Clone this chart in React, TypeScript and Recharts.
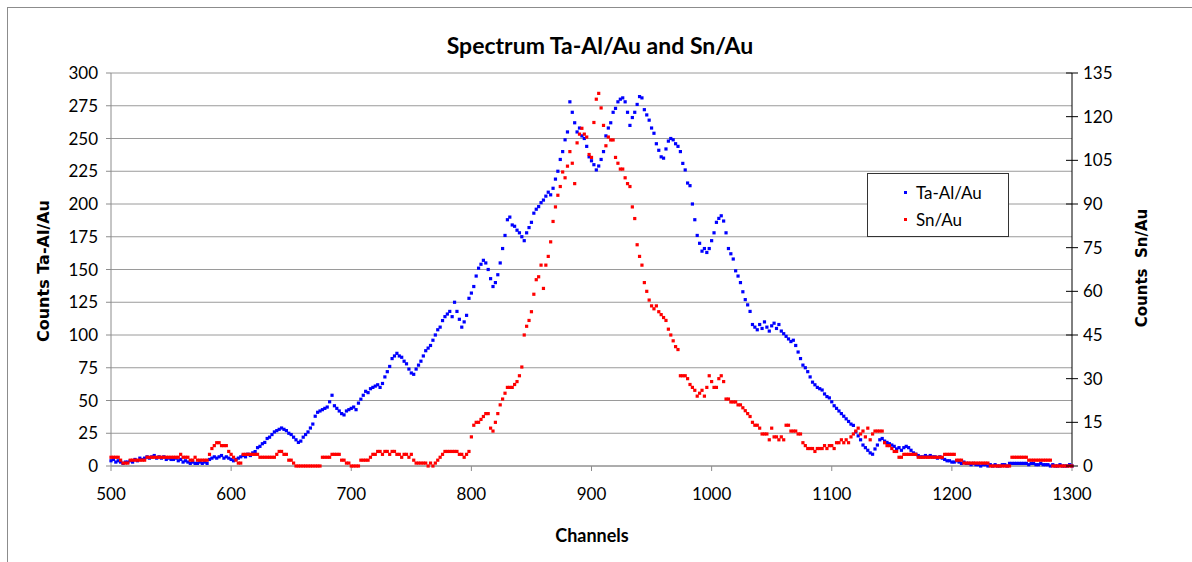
import { ScatterChart, Scatter, XAxis, YAxis, CartesianGrid } from "recharts";

// Spectrum channels are sampled every 2 channels from 500 to 1300
const CHANNEL_START = 500;
const CHANNEL_STEP = 2;

// Ta-Al/Au counts (left axis)
const TA_AL_AU = [
  4, 5, 3, 4, 3, 2, 3, 3, 4, 3,
  5, 4, 6, 5, 6, 7, 6, 7, 8, 6,
  7, 6, 7, 5, 6, 5, 5, 6, 4, 5,
  3, 4, 3, 2, 3, 2, 2, 3, 2, 3,
  2, 5, 6, 7, 6, 7, 8, 6, 7, 6,
  5, 4, 5, 6, 7, 8, 7, 9, 8, 10,
  11, 14, 15, 17, 18, 21, 22, 24, 26, 27,
  28, 29, 28, 27, 25, 24, 22, 20, 18, 19,
  22, 24, 26, 29, 32, 38, 41, 42, 43, 44,
  45, 49, 54, 46, 44, 42, 40, 39, 42, 43,
  44, 45, 43, 48, 51, 54, 57, 56, 59, 60,
  61, 62, 60, 63, 68, 72, 76, 82, 84, 86,
  84, 83, 80, 78, 74, 71, 70, 74, 77, 80,
  84, 88, 90, 92, 96, 100, 104, 106, 111, 114,
  116, 118, 114, 125, 118, 112, 106, 110, 115, 128,
  132, 137, 145, 151, 154, 157, 155, 150, 143, 137,
  140, 146, 155, 166, 176, 188, 190, 184, 183, 180,
  178, 175, 172, 178, 182, 186, 193, 196, 198, 201,
  203, 206, 209, 207, 212, 219, 225, 234, 240, 249,
  255, 278, 270, 262, 255, 258, 252, 250, 244, 236,
  233, 230, 226, 229, 234, 240, 252, 258, 262, 270,
  273, 278, 280, 281, 278, 270, 260, 266, 270, 276,
  282, 281, 272, 268, 264, 258, 254, 246, 241, 236,
  235, 242, 248, 250, 249, 246, 244, 240, 231, 226,
  216, 214, 200, 188, 176, 170, 164, 166, 163, 166,
  172, 178, 186, 189, 191, 187, 178, 166, 162, 158,
  149, 145, 140, 133, 127, 123, 118, 108, 106, 104,
  108, 105, 110, 106, 103, 107, 109, 105, 108, 103,
  101, 99, 97, 95, 96, 92, 87, 82, 77, 75,
  72, 68, 64, 62, 60, 59, 58, 55, 53, 52,
  49, 46, 44, 42, 40, 38, 36, 34, 32, 31,
  26, 23, 20, 16, 14, 12, 10, 9, 13, 16,
  20, 21, 19, 18, 17, 16, 15, 13, 14, 12,
  14, 15, 14, 12, 10, 9, 8, 7, 7, 8,
  7, 8, 7, 7, 6, 7, 6, 5, 4, 4,
  3, 3, 4, 3, 2, 3, 2, 2, 1, 2,
  1, 1, 0, 1, 1, 0, 1, 0, 1, 0,
  0, 1, 1, 0, 2, 2, 2, 2, 2, 2,
  2, 2, 1, 2, 2, 1, 1, 2, 1, 1,
  1, 0, 1, 0, 0, 1, 0, 0, 0, 1,
  0,
];

// Sn/Au counts (right axis)
const SN_AU = [
  3, 3, 3, 3, 2, 1, 1, 1, 2, 2,
  2, 2, 2, 2, 2, 3, 3, 3, 3, 3,
  3, 3, 3, 3, 3, 3, 3, 3, 3, 4,
  3, 3, 3, 2, 2, 3, 2, 2, 2, 2,
  2, 4, 6, 7, 8, 8, 7, 7, 7, 5,
  4, 3, 2, 1, 1, 4, 4, 4, 4, 4,
  4, 4, 3, 3, 3, 3, 3, 3, 3, 4,
  5, 5, 4, 4, 2, 2, 1, 0, 0, 0,
  0, 0, 0, 0, 0, 0, 0, 0, 3, 3,
  3, 3, 4, 4, 4, 4, 2, 2, 1, 1,
  0, 0, 0, 0, 2, 2, 2, 2, 3, 4,
  4, 5, 5, 4, 5, 5, 4, 5, 5, 4,
  4, 3, 4, 4, 3, 4, 2, 1, 1, 1,
  1, 1, 0, 1, 0, 1, 2, 3, 4, 5,
  5, 5, 5, 5, 5, 4, 4, 3, 4, 5,
  10, 14, 15, 15, 16, 17, 18, 18, 13, 12,
  15, 18, 21, 23, 25, 27, 27, 27, 28, 29,
  31, 34, 45, 48, 50, 53, 59, 64, 65, 69,
  61, 69, 72, 77, 84, 89, 93, 96, 101, 99,
  103, 108, 104, 97, 111, 114, 116, 114, 113, 107,
  106, 118, 126, 128, 123, 117, 110, 113, 112, 112,
  106, 104, 102, 102, 99, 97, 96, 89, 85, 76,
  72, 69, 63, 60, 57, 55, 54, 55, 53, 52,
  51, 50, 47, 45, 43, 41, 40, 31, 31, 31,
  30, 28, 27, 26, 24, 25, 26, 24, 27, 31,
  29, 27, 27, 30, 31, 29, 23, 23, 22, 22,
  22, 21, 21, 20, 19, 18, 17, 15, 14, 14,
  13, 11, 11, 11, 9, 13, 10, 10, 9, 10,
  9, 14, 14, 12, 12, 12, 11, 11, 8, 7,
  6, 6, 6, 5, 6, 6, 6, 7, 6, 7,
  7, 6, 8, 8, 9, 8, 9, 8, 10, 11,
  12, 13, 11, 12, 10, 13, 9, 11, 12, 12,
  12, 12, 8, 7, 7, 6, 5, 5, 3, 3,
  4, 4, 4, 4, 4, 4, 3, 3, 3, 3,
  3, 3, 3, 3, 3, 3, 3, 4, 4, 4,
  4, 4, 2, 2, 2, 1, 1, 1, 1, 1,
  1, 1, 1, 1, 1, 1, 0, 0, 0, 0,
  0, 0, 0, 0, 0, 3, 3, 3, 3, 3,
  3, 3, 2, 2, 2, 2, 2, 2, 2, 2,
  2, 2, 0, 0, 0, 0, 0, 0, 0, 0,
  0,
];

const X_TICKS = [500, 600, 700, 800, 900, 1000, 1100, 1200, 1300];
const LEFT_TICKS = [0, 25, 50, 75, 100, 125, 150, 175, 200, 225, 250, 275, 300];
const RIGHT_TICKS = [0, 15, 30, 45, 60, 75, 90, 105, 120, 135];

const SERIES = [
  { name: "Ta-Al/Au", color: "#0000ff" },
  { name: "Sn/Au", color: "#ff0000" },
];

const toPoints = (values: number[]) =>
  values.map((counts, i) => ({ channel: CHANNEL_START + i * CHANNEL_STEP, counts }));

const taData = toPoints(TA_AL_AU);
const snData = toPoints(SN_AU);

const FONT = "Lato, 'Open Sans', sans-serif";
const tickStyle = { fontSize: 17, fill: "#000", fontFamily: FONT };

const CHART_W = 1176;
const RIGHT_AXIS_W = 112;
const RIGHT_AXIS_X = CHART_W - RIGHT_AXIS_W;

// small square markers, like the spreadsheet's default dot
const squareDot = (color: string) => (props: any) => {
  if (props.cx == null || props.cy == null) return <g />;
  return <rect x={props.cx - 1.6} y={props.cy - 1.6} width={3.2} height={3.2} fill={color} />;
};

// right axis ticks cross the axis line
const RightTick = (props: any) => {
  const { x, y, payload } = props;
  return (
    <g>
      <line x1={RIGHT_AXIS_X - 6} x2={RIGHT_AXIS_X + 6} y1={y} y2={y} stroke="#000" />
      <text x={x} y={y} dy="0.35em" textAnchor="start" style={tickStyle}>
        {payload.value}
      </text>
    </g>
  );
};

// legend sits on top of the plot, outside of recharts' layout
const LegendBox = () => (
  <div
    style={{
      position: "absolute",
      left: 859,
      top: 165,
      width: 142,
      height: 64,
      border: "1px solid #333",
      background: "#fff",
      fontFamily: FONT,
      fontSize: 17,
      color: "#000",
      boxSizing: "border-box",
      padding: "5px 0 0 36px",
    }}
  >
    {SERIES.map((s) => (
      <div key={s.name} style={{ display: "flex", alignItems: "center", height: 27 }}>
        <span style={{ width: 3, height: 3, background: s.color, marginRight: 9 }} />
        <span>{s.name}</span>
      </div>
    ))}
  </div>
);

const LeftTitle = () => (
  <text
    x={35}
    y={263}
    transform="rotate(-90, 35, 263)"
    textAnchor="middle"
    dominantBaseline="central"
    style={{ fontFamily: "'DejaVu Sans', sans-serif", fontWeight: "bold", fontSize: 16, fill: "#000" }}
  >
    Counts Ta-Al/Au
  </text>
);

const RightTitle = () => (
  <text
    x={1134}
    y={260}
    transform="rotate(-90, 1134, 260)"
    textAnchor="middle"
    dominantBaseline="central"
    style={{ fontFamily: "'DejaVu Sans', sans-serif", fontWeight: "bold", fontSize: 15, fill: "#000", whiteSpace: "pre" }}
  >
    {"Counts  Sn/Au"}
  </text>
);

const BottomTitle = () => (
  <text
    x={584}
    y={527}
    textAnchor="middle"
    dominantBaseline="central"
    style={{ fontFamily: FONT, fontWeight: "bold", fontSize: 18, fill: "#000" }}
  >
    Channels
  </text>
);

export default function App() {
  return (
    <div
      style={{
        position: "absolute",
        left: 7,
        top: 7,
        width: 1185,
        height: 555,
        borderLeft: "1px solid #8c8c8c",
        borderTop: "1px solid #8c8c8c",
        background: "#fff",
      }}
    >
      <div
        style={{
          position: "absolute",
          left: 0,
          top: 23,
          width: 1184,
          textAlign: "center",
          fontFamily: FONT,
          fontWeight: "bold",
          fontSize: 23,
          color: "#000",
        }}
      >
        Spectrum Ta-Al/Au and Sn/Au
      </div>
      <ScatterChart width={CHART_W} height={546} margin={{ top: 65, right: 0, bottom: 0, left: 0 }}>
        <CartesianGrid horizontal vertical={false} stroke="#9a9a9a" horizontalValues={LEFT_TICKS} />
        <XAxis
          type="number"
          dataKey="channel"
          domain={[500, 1300]}
          ticks={X_TICKS}
          height={88}
          stroke="#8c8c8c"
          tickSize={5}
          tickMargin={17}
          tick={tickStyle}
          label={{ content: () => <BottomTitle /> }}
        />
        <YAxis
          type="number"
          dataKey="counts"
          domain={[0, 300]}
          ticks={LEFT_TICKS}
          width={103}
          stroke="#8c8c8c"
          tickSize={5}
          tickMargin={8}
          tick={tickStyle}
          label={{ content: () => <LeftTitle /> }}
        />
        <YAxis
          yAxisId="right"
          orientation="right"
          type="number"
          dataKey="counts"
          domain={[0, 135]}
          ticks={RIGHT_TICKS}
          width={RIGHT_AXIS_W}
          stroke="#000"
          tickLine={false}
          tickSize={5}
          tickMargin={6}
          tick={<RightTick />}
          label={{ content: () => <RightTitle /> }}
        />
        <Scatter
          name={SERIES[0].name}
          data={taData}
          fill={SERIES[0].color}
          shape={squareDot(SERIES[0].color)}
          isAnimationActive={false}
        />
        <Scatter
          name={SERIES[1].name}
          data={snData}
          yAxisId="right"
          fill={SERIES[1].color}
          shape={squareDot(SERIES[1].color)}
          isAnimationActive={false}
        />
      </ScatterChart>
      <LegendBox />
    </div>
  );
}
